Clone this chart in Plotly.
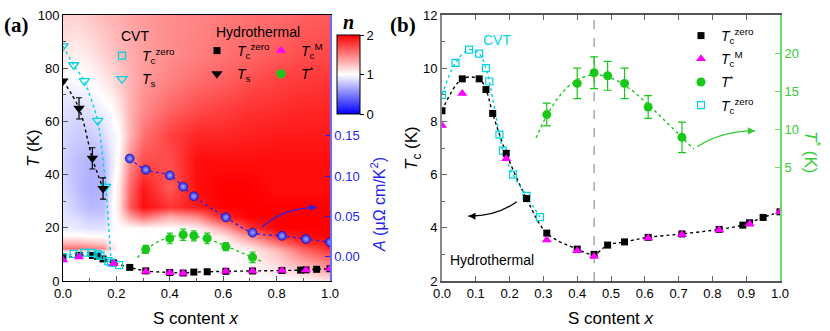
import numpy as np
import plotly.graph_objects as go

W, H = 830, 331
FONT = "Liberation Sans, Arial, sans-serif"
SERIF = "Liberation Serif, Times New Roman, serif"

CYAN = "#00d4e4"
MAGENTA = "#ff00ff"
GREEN = "#18c818"
BLUE = "#2424f0"
AXGREEN = "#66dd66"

# ---- data ----
# hydrothermal Tc(zero), both panels
x_tc = [0.0, 0.06, 0.11, 0.13, 0.15, 0.19, 0.25, 0.31, 0.40, 0.45, 0.49, 0.54,
        0.61, 0.71, 0.82, 0.89, 0.91, 0.95, 1.0]
tc_zero = [8.4, 9.6, 9.6, 9.2, 8.3, 6.8, 5.1, 3.8, 3.2, 3.0, 3.35, 3.47,
           3.64, 3.77, 3.94, 4.1, 4.19, 4.39, 4.6]

# hydrothermal Tc(M)
x_tcm = [0.0, 0.06, 0.19, 0.31, 0.40, 0.45, 0.61, 0.71, 0.82, 0.91, 1.0]
tc_m = [7.85, 9.05, 6.6, 3.54, 3.14, 2.92, 3.62, 3.75, 3.92, 4.14, 4.6]

# CVT Tc(zero)
x_cvt_tc = [0.0, 0.04, 0.08, 0.11, 0.13, 0.14, 0.17, 0.18, 0.21, 0.25, 0.29]
cvt_tc = [9.0, 10.2, 10.7, 10.55, 10.0, 9.5, 7.5, 6.9, 6.0, 5.2, 4.4]

# hydrothermal Ts
x_ts = [0.0, 0.06, 0.11, 0.15]
ts = [75.2, 64.9, 46.1, 34.8]
ts_err = [0, 4, 4, 4]

# CVT Ts
x_cvt_ts = [0.0, 0.04, 0.08, 0.13, 0.16]
cvt_ts = [88.3, 81.2, 75.2, 60.3, 35.5]

# T*
x_tstar = [0.31, 0.40, 0.45, 0.49, 0.54, 0.61, 0.71]
tstar = [11.9, 16.0, 17.4, 17.0, 16.0, 12.9, 8.9]
tstar_err = [1.5, 2.0, 2.1, 1.9, 2.0, 1.5, 2.0]

# A coefficient (uOhm cm / K^2)
x_a = [0.25, 0.31, 0.40, 0.45, 0.49, 0.61, 0.71, 0.82, 0.91, 1.0]
a_coef = [0.122, 0.108, 0.101, 0.087, 0.075, 0.049, 0.030, 0.026, 0.022, 0.018]

# exponent n map
hm_x = [0.0, 0.05, 0.10, 0.15, 0.18, 0.21, 0.25, 0.30, 0.40, 0.50, 0.60, 0.70, 0.80, 0.90, 1.0]
hm_t = [0, 11, 12.5, 14, 17, 20, 24, 28, 35, 45, 55, 65, 75, 85, 100]
hm_n = [
    [1.0, 1.0, 1.0, 1.0, 1.0, 1.0, 1.0, 1.0, 1.0, 1.0, 1.0, 1.0, 1.0, 1.0, 1.1],
    [1.0, 1.0, 1.0, 1.0, 1.0, 1.0, 1.0, 1.0, 1.0, 1.0, 1.0, 1.05, 1.25, 1.55, 1.75],
    [1.55, 1.55, 1.5, 1.45, 1.15, 1.0, 1.0, 1.0, 1.0, 1.0, 1.0, 1.1, 1.35, 1.65, 1.85],
    [1.35, 1.35, 1.3, 1.25, 1.05, 1.0, 1.0, 1.0, 1.0, 1.0, 1.0, 1.2, 1.5, 1.8, 1.9],
    [1.02, 1.02, 1.0, 1.0, 1.0, 1.0, 1.0, 1.0, 1.0, 1.0, 1.1, 1.45, 1.8, 1.95, 2.0],
    [0.93, 0.92, 0.88, 0.88, 0.97, 1.0, 1.0, 1.02, 1.0, 1.05, 1.35, 1.8, 2.0, 2.0, 2.0],
    [0.9, 0.86, 0.8, 0.8, 0.95, 1.08, 1.35, 1.55, 1.3, 1.45, 1.85, 2.0, 2.0, 2.0, 2.0],
    [0.88, 0.8, 0.72, 0.74, 0.95, 1.12, 1.65, 1.95, 1.8, 1.9, 2.0, 2.0, 2.0, 2.0, 2.0],
    [0.85, 0.75, 0.68, 0.7, 0.93, 1.1, 1.6, 1.9, 1.65, 1.95, 2.0, 2.0, 1.95, 1.95, 1.95],
    [0.82, 0.75, 0.7, 0.72, 0.9, 1.03, 1.45, 1.7, 1.7, 1.95, 1.95, 1.95, 1.95, 1.95, 1.95],
    [0.85, 0.8, 0.8, 0.86, 0.94, 1.0, 1.3, 1.55, 1.75, 1.85, 1.85, 1.88, 1.9, 1.9, 1.9],
    [0.88, 0.86, 0.9, 0.96, 1.0, 1.1, 1.3, 1.45, 1.6, 1.7, 1.75, 1.8, 1.82, 1.85, 1.85],
    [0.97, 0.98, 1.0, 1.07, 1.12, 1.2, 1.3, 1.4, 1.5, 1.58, 1.63, 1.7, 1.75, 1.78, 1.8],
    [1.1, 1.05, 1.1, 1.17, 1.22, 1.27, 1.32, 1.37, 1.45, 1.5, 1.55, 1.6, 1.65, 1.7, 1.72],
    [1.18, 1.18, 1.22, 1.27, 1.3, 1.32, 1.36, 1.4, 1.45, 1.48, 1.52, 1.56, 1.58, 1.62, 1.65],
]

BWR = [[0.0, "#0000ff"], [0.5, "#ffffff"], [1.0, "#ff0000"]]

LBL_TC0 = "<i>T</i><sub>c</sub><sup>zero</sup>"
LBL_TCM = "<i>T</i><sub>c</sub><sup>M</sup>"
LBL_TS = "<i>T</i><sub>s</sub>"
LBL_TSTAR = "<i>T</i><sup>*</sup>"


def px(x):
    return x / W


def py(y):
    return 1 - y / H


# cubic fit through T* for the guide line
tfit = np.polyfit(x_tstar, tstar, 3)
x_fit = np.linspace(0.278, 0.745, 60)
t_fit = np.polyval(tfit, x_fit)

n_cvt_a = 9  # CVT Tc points shown in panel (a)

fig = go.Figure()

# ---------------- panel (a) ----------------
fig.add_trace(go.Heatmap(
    x=hm_x, y=hm_t, z=hm_n, zmin=0, zmax=2, zsmooth="best", colorscale=BWR,
    xaxis="x", yaxis="y", hoverinfo="skip",
    colorbar=dict(x=px(337), xanchor="left", y=py(74.5), yanchor="middle",
                  len=79, lenmode="pixels", thickness=23, thicknessmode="pixels",
                  outlinecolor="black", outlinewidth=1, tickvals=[0, 1, 2],
                  ticks="outside", ticklen=4, tickcolor="black",
                  tickfont=dict(size=13, family=FONT, color="black"),
                  xpad=0, ypad=0),
))


def guide(x, y, color, xa, ya, shape="spline", smoothing=1.0, width=1.4):
    fig.add_trace(go.Scatter(
        x=x, y=y, mode="lines", xaxis=xa, yaxis=ya, showlegend=False,
        hoverinfo="skip",
        line=dict(color=color, dash="dot", width=width, shape=shape,
                  smoothing=smoothing),
    ))


guide(x_tc, tc_zero, "black", "x", "y")
guide(x_cvt_tc[:n_cvt_a], cvt_tc[:n_cvt_a], CYAN, "x", "y")
guide(x_ts, ts, "black", "x", "y")
guide(x_cvt_ts + [x_cvt_tc[7]], cvt_ts + [cvt_tc[7]], CYAN, "x", "y", smoothing=0.6)
guide(list(x_fit), list(t_fit), GREEN, "x", "y", shape="linear")
guide(x_a, a_coef, BLUE, "x", "y2")

fig.add_trace(go.Scatter(
    x=x_tc, y=tc_zero, mode="markers", xaxis="x", yaxis="y", name=LBL_TC0,
    legend="legend2", legendgroup="a1", legendrank=1,
    marker=dict(symbol="square", size=7, color="black"),
))
fig.add_trace(go.Scatter(
    x=x_cvt_tc[:n_cvt_a], y=cvt_tc[:n_cvt_a], mode="markers", xaxis="x", yaxis="y",
    name=LBL_TC0, legend="legend", legendgroup="c1", legendrank=1,
    marker=dict(symbol="square-open", size=7, color=CYAN, line=dict(width=1.3)),
))
fig.add_trace(go.Scatter(
    x=x_cvt_ts, y=cvt_ts, mode="markers", xaxis="x", yaxis="y",
    name=LBL_TS, legend="legend", legendgroup="c2", legendrank=2,
    marker=dict(symbol="triangle-down-open", size=9, color=CYAN, line=dict(width=1.3)),
))
fig.add_trace(go.Scatter(
    x=x_ts, y=ts, mode="markers", xaxis="x", yaxis="y", name=LBL_TS,
    legend="legend2", legendgroup="a2", legendrank=2,
    error_y=dict(type="data", array=ts_err, color="black", thickness=1.2, width=3),
    marker=dict(symbol="triangle-down", size=10, color="black"),
))
fig.add_trace(go.Scatter(
    x=x_tcm, y=tc_m, mode="markers", xaxis="x", yaxis="y", name=LBL_TCM,
    legend="legend3", legendgroup="a3", legendrank=1,
    marker=dict(symbol="triangle-up", size=9, color=MAGENTA),
))
fig.add_trace(go.Scatter(
    x=x_tstar, y=tstar, mode="markers", xaxis="x", yaxis="y", name=LBL_TSTAR,
    legend="legend3", legendgroup="a4", legendrank=2,
    error_y=dict(type="data", array=tstar_err, color=GREEN, thickness=1.2, width=3),
    marker=dict(symbol="circle", size=9, color=GREEN),
))
fig.add_trace(go.Scatter(
    x=x_a, y=a_coef, mode="markers", xaxis="x", yaxis="y2", showlegend=False,
    marker=dict(symbol="circle", size=9, color=BLUE,
                gradient=dict(type="radial", color="#a8a8ff"),
                line=dict(color="#1010a0", width=0.6)),
))

# ---------------- panel (b) ----------------
guide(x_tc, tc_zero, "black", "x2", "y3")
guide(x_cvt_tc, cvt_tc, CYAN, "x2", "y3")
guide(list(x_fit), list(t_fit), GREEN, "x2", "y4", shape="linear")

fig.add_trace(go.Scatter(
    x=x_cvt_tc, y=cvt_tc, mode="markers", xaxis="x2", yaxis="y3", name=LBL_TC0,
    legend="legend4", legendgroup="b4", legendrank=4,
    marker=dict(symbol="square-open", size=7, color=CYAN, line=dict(width=1.2)),
))
fig.add_trace(go.Scatter(
    x=x_tc, y=tc_zero, mode="markers", xaxis="x2", yaxis="y3", name=LBL_TC0,
    legend="legend4", legendgroup="b1", legendrank=1,
    marker=dict(symbol="square", size=7, color="black"),
))
fig.add_trace(go.Scatter(
    x=x_tcm, y=tc_m, mode="markers", xaxis="x2", yaxis="y3", name=LBL_TCM,
    legend="legend4", legendgroup="b2", legendrank=2,
    marker=dict(symbol="triangle-up", size=9, color=MAGENTA),
))
fig.add_trace(go.Scatter(
    x=x_tstar, y=tstar, mode="markers", xaxis="x2", yaxis="y4", name=LBL_TSTAR,
    legend="legend4", legendgroup="b3", legendrank=3,
    error_y=dict(type="data", array=tstar_err, color=GREEN, thickness=1.2, width=4),
    marker=dict(symbol="circle", size=9, color=GREEN),
))

# ---------------- layout ----------------
dom_y = [py(281), py(15)]
dom_xa = [px(63), px(330)]
dom_xb = [px(442), px(780)]
tickfont = dict(size=13, family=FONT, color="black")

common = dict(showgrid=False, zeroline=False, tickfont=tickfont, automargin=False)

leg = dict(xanchor="left", yanchor="top", bgcolor="rgba(0,0,0,0)", borderwidth=0,
           font=dict(size=14, family=FONT, color="black"), itemwidth=30,
           tracegroupgap=2, orientation="v")

fig.update_layout(
    template="none",
    width=W, height=H, margin=dict(l=0, r=0, t=0, b=0, pad=0, autoexpand=False),
    paper_bgcolor="white", plot_bgcolor="white",
    font=dict(family=FONT, color="black"),
    xaxis=dict(domain=dom_xa, anchor="y", range=[0, 1], dtick=0.2, tickformat=".1f",
               ticks="inside", ticklen=5, tickcolor="#555", showline=True,
               linecolor="black", linewidth=1, mirror=True,
               minor=dict(dtick=0.1, ticks="inside", ticklen=3, tickcolor="#555"),
               **common),
    yaxis=dict(domain=dom_y, anchor="x", range=[0, 100], dtick=20,
               ticks="inside", ticklen=5, tickcolor="#555", showline=True,
               linecolor="black", linewidth=1,
               minor=dict(dtick=10, ticks="inside", ticklen=3, tickcolor="#555"),
               **common),
    yaxis2=dict(overlaying="y", anchor="x", side="right", range=[-0.03, 0.30],
                tickvals=[0, 0.05, 0.10, 0.15], tickformat=".2f",
                ticks="inside", ticklen=5, tickcolor=BLUE, showline=True,
                linecolor="#6a6aff", linewidth=1.5,
                showgrid=False, zeroline=False, automargin=False,
                tickfont=dict(size=13, family=FONT, color=BLUE)),
    xaxis2=dict(domain=dom_xb, anchor="y3", range=[0, 1], dtick=0.1, tickformat=".1f",
                ticks="inside", ticklen=5, tickcolor="#666", showline=True,
                linecolor="#555", linewidth=1.5, mirror="ticks", **common),
    yaxis3=dict(domain=dom_y, anchor="x2", range=[2, 12], dtick=2,
                ticks="inside", ticklen=5, tickcolor="#666", showline=True,
                linecolor="#888", linewidth=2,
                minor=dict(dtick=1, ticks="inside", ticklen=3, tickcolor="#666"),
                **common),
    yaxis4=dict(overlaying="y3", anchor="x2", side="right", range=[-10, 25],
                tickvals=[5, 10, 15, 20], ticks="inside", ticklen=5, tickcolor=AXGREEN,
                showline=True, linecolor=AXGREEN, linewidth=2,
                showgrid=False, zeroline=False, automargin=False,
                tickfont=dict(size=13, family=FONT, color="#33cc33")),
    legend=dict(x=px(102), y=py(40), **leg),
    legend2=dict(x=px(197), y=py(35), **leg),
    legend3=dict(x=px(261), y=py(35), **leg),
    legend4=dict(x=px(681), y=py(20), **leg),
)

ann = []


def text(x, y, s, size=14, color="black", family=FONT, angle=0, xanchor="center", **kw):
    ann.append(dict(x=px(x), y=py(y), xref="paper", yref="paper", text=s,
                    showarrow=False, xanchor=xanchor, yanchor="middle",
                    textangle=angle, font=dict(size=size, color=color, family=family),
                    **kw))


text(2, 25, "<b>(a)</b>", size=21, family=SERIF, xanchor="left")
text(388, 25, "<b>(b)</b>", size=21, family=SERIF, xanchor="left")
text(348, 22, "<b><i>n</i></b>", size=20, family=SERIF)
text(119, 36, "CVT", size=14, xanchor="left")
text(214, 32, "Hydrothermal", size=14, xanchor="left")
text(497, 40, "CVT", size=14, color=CYAN)
text(492, 260, "Hydrothermal", size=14)
text(196, 318, "S content <i>x</i>", size=17)
text(611, 318, "S content <i>x</i>", size=17)
text(33, 148, "<i>T</i> (K)", size=17, angle=-90)
text(413, 148, "<i>T</i><sub>c</sub> (K)", size=17, angle=-90)
text(378, 205, "<i>A</i> (μΩ cm/K<sup>2</sup>)", size=16, color=BLUE, angle=-90)
text(812, 152, "<i>T</i><sup>*</sup> (K)", size=17, color="#33cc33", angle=90)

# curved arrows
arrows = [
    ("x", "y", (0.744, 20.2), (0.83, 27.8), (0.95, 27.6), BLUE),
    ("x2", "y3", (0.221, 4.98), (0.16, 4.42), (0.078, 4.44), "black"),
    ("x2", "y4", (0.755, 7.67), (0.83, 9.8), (0.926, 9.74), "#33cc33"),
]
shapes = []
for xr, yr, p0, pc, p1, col in arrows:
    shapes.append(dict(type="path", xref=xr, yref=yr, line=dict(color=col, width=1.3),
                       path=f"M {p0[0]},{p0[1]} Q {pc[0]},{pc[1]} {p1[0]},{p1[1]}"))
    dx = p1[0] - pc[0]
    dy = p1[1] - pc[1]
    ann.append(dict(x=p1[0], y=p1[1], ax=p1[0] - dx * 0.15, ay=p1[1] - dy * 0.15,
                    xref=xr, yref=yr, axref=xr, ayref=yr, text="", showarrow=True,
                    arrowhead=2, arrowsize=1.1, arrowwidth=1.3, arrowcolor=col))

shapes.append(dict(type="line", xref="x2", yref="y3", x0=0.45, x1=0.45, y0=2, y1=12,
                   line=dict(color="#777", width=1, dash="dash"), layer="below"))

fig.update_layout(annotations=ann, shapes=shapes)

fig.write_html("out.html", config={"displayModeBar": False},
               post_script="document.body.style.margin='0';")
